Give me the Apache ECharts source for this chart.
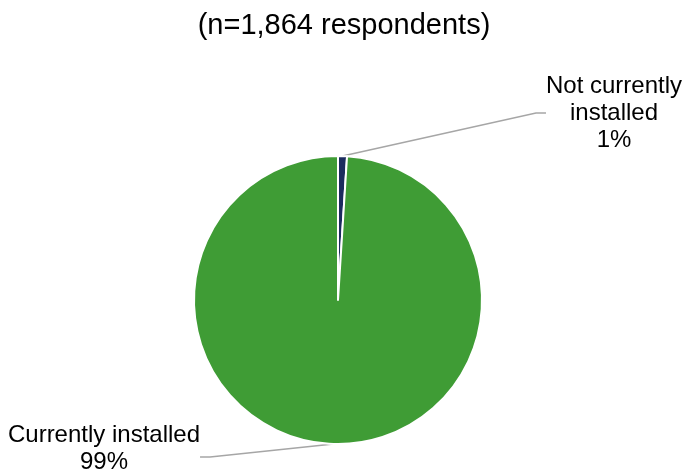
<!DOCTYPE html>
<html>
<head>
<meta charset="utf-8">
<style>
  html, body { margin: 0; padding: 0; background: #ffffff; }
  #chart { width: 688px; height: 472px; }
</style>
<script src="https://cdn.jsdelivr.net/npm/echarts@6/dist/echarts.min.js"></script>
</head>
<body>
<div id="chart"></div>
<script>
// Installation status of respondents
const titleText = '(n=1,864 respondents)';
const categories = ['Not currently\ninstalled', 'Currently installed'];
const shares = [1, 99];
const sliceColors = ['#1b2b5e', '#3f9c35'];

const chart = echarts.init(document.getElementById('chart'));

const data = categories.map((name, i) => ({
  name: name,
  value: shares[i],
  itemStyle: { color: sliceColors[i] }
}));

// Label anchor positions (centre of each label box)
const labelSpots = [
  { x: 614, y: 113 },
  { x: 104, y: 457 }
];

chart.setOption({
  animation: false,
  title: {
    text: titleText,
    left: 'center',
    top: 6,
    textStyle: {
      fontFamily: 'Liberation Sans, Arial, sans-serif',
      fontSize: 29,
      fontWeight: 'normal',
      color: '#000000'
    }
  },
  series: [{
    type: 'pie',
    center: [338, 300],
    radius: [0, 144],
    startAngle: 90,
    clockwise: true,
    data: data,
    itemStyle: { borderColor: '#ffffff', borderWidth: 2 },
    label: {
      show: true,
      // the lower label gets an empty spacer row so its leader meets it lower down
      formatter: p => p.name + '\n' + p.value + '%' + (p.dataIndex === 1 ? '\n{gap|}' : ''),
      fontFamily: 'Liberation Sans, Arial, sans-serif',
      fontSize: 24,
      lineHeight: 27,
      color: '#000000',
      align: 'center',
      rich: {
        gap: { fontSize: 1, lineHeight: 16, height: 16 }
      }
    },
    labelLine: {
      show: true,
      length: 20,
      length2: 10,
      smooth: false,
      lineStyle: { color: '#a6a6a6', width: 1.5 }
    },
    labelLayout: function (params) {
      const s = labelSpots[params.dataIndex];
      return {
        x: s.x,
        y: s.y,
        align: 'center',
        verticalAlign: 'middle'
      };
    },
    emphasis: { disabled: true }
  }]
});
</script>
</body>
</html>
